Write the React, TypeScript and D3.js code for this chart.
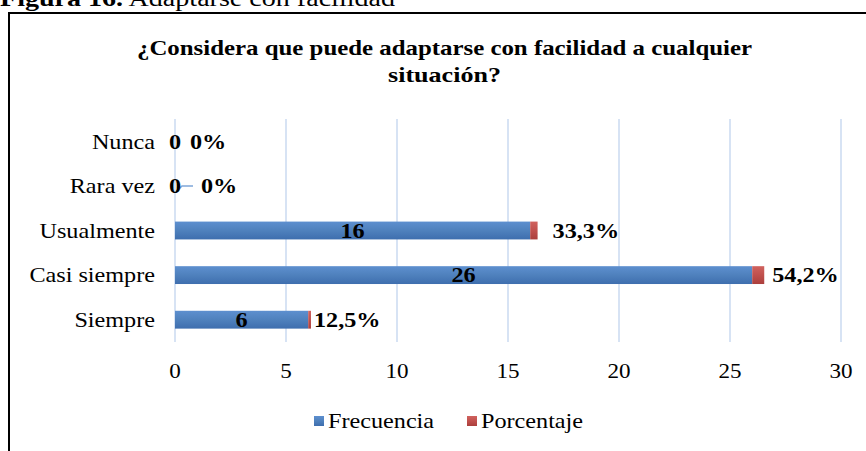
import React from "react";
import * as d3 from "d3";

const categories = ["Nunca", "Rara vez", "Usualmente", "Casi siempre", "Siempre"];
const frecuencia = [0, 0, 16, 26, 6];
const porcentaje = [0, 0, 0.333, 0.542, 0.125];
const porcentajeLabels = ["0%", "0%", "33,3%", "54,2%", "12,5%"];
const xTicks = [0, 5, 10, 15, 20, 25, 30];
const seriesNames = ["Frecuencia", "Porcentaje"];

// layout-only tweaks for the outside labels (gap after bar end, px)
const labelGap = [15, 26, 15, 8, 3];

const W = 866;
const H = 451;
const SX = 1.1; // horizontal text stretch of the reference
const FONT = "'Liberation Serif', 'Times New Roman', serif";

export default function App() {
  const x = d3.scaleLinear().domain([0, 30]).range([175, 841]);
  const y = d3
    .scaleBand<string>()
    .domain(categories)
    .range([119, 342])
    .paddingInner(0.6)
    .paddingOuter(0.3);
  const bw = y.bandwidth();

  const stretched = (
    tx: number,
    ty: number,
    content: React.ReactNode,
    anchor: "start" | "middle" | "end",
    size: number,
    weight: string | number = "normal",
    key?: string | number
  ) => (
    <text
      key={key}
      transform={`translate(${tx},${ty}) scale(${SX},1)`}
      textAnchor={anchor}
      dy="0.33em"
      fontSize={size}
      fontWeight={weight}
      fontFamily={FONT}
      fill="#000"
    >
      {content}
    </text>
  );

  return (
    <svg
      width={W}
      height={H}
      style={{ position: "absolute", left: 0, top: 0, background: "#fff" }}
    >
      <defs>
        <linearGradient id="gBlue" x1="0" y1="0" x2="0" y2="1">
          <stop offset="0" stopColor="#5d8fcf" />
          <stop offset="0.5" stopColor="#4f81bd" />
          <stop offset="1" stopColor="#3e6eae" />
        </linearGradient>
        <linearGradient id="gRed" x1="0" y1="0" x2="0" y2="1">
          <stop offset="0" stopColor="#d0625e" />
          <stop offset="0.5" stopColor="#c0504d" />
          <stop offset="1" stopColor="#ab3f3c" />
        </linearGradient>
      </defs>
      <rect x={0} y={0} width={W} height={H} fill="#fff" />

      {/* figure caption, cropped at top as in the reference */}
      <text
        x={0}
        y={6}
        fontSize={23}
        fontFamily={FONT}
        textLength={395}
        lengthAdjust="spacingAndGlyphs"
        fill="#000"
      >
        <tspan fontWeight="bold">Figura 16.</tspan>
        <tspan> Adaptarse con facilidad</tspan>
      </text>

      {/* chart border */}
      <path d={`M9,${H} V13 H${W}`} fill="none" stroke="#000" strokeWidth={2} />

      {/* title */}
      <text
        x={444.5}
        y={55}
        textAnchor="middle"
        fontSize={21}
        fontWeight="bold"
        fontFamily={FONT}
        textLength={615}
        lengthAdjust="spacingAndGlyphs"
      >
        ¿Considera que puede adaptarse con facilidad  a cualquier
      </text>
      <text
        x={444.5}
        y={82}
        textAnchor="middle"
        fontSize={21}
        fontWeight="bold"
        fontFamily={FONT}
        textLength={113}
        lengthAdjust="spacingAndGlyphs"
      >
        situación?
      </text>

      {/* gridlines */}
      {xTicks.map((t) => (
        <line
          key={"g" + t}
          x1={x(t)}
          x2={x(t)}
          y1={119}
          y2={342}
          stroke="#d7e3f4"
          strokeWidth={2}
        />
      ))}

      {/* x tick labels */}
      {xTicks.map((t) => stretched(x(t), 371, String(t), "middle", 21, "normal", "t" + t))}

      {/* category labels */}
      {categories.map((c) =>
        stretched(155, (y(c) as number) + bw / 2, c, "end", 22, "normal", "c" + c)
      )}

      {/* bars */}
      {categories.map((c, i) => {
        const y0 = y(c) as number;
        const x0 = x(0);
        const x1 = x(frecuencia[i]);
        const x2 = x(frecuencia[i] + porcentaje[i]);
        return (
          <g key={"b" + c}>
            {frecuencia[i] > 0 && (
              <rect x={x0} y={y0} width={x1 - x0} height={bw} fill="url(#gBlue)" />
            )}
            {porcentaje[i] > 0 && (
              <rect x={x1} y={y0} width={x2 - x1} height={bw} fill="url(#gRed)" />
            )}
          </g>
        );
      })}

      {/* leader line for Rara vez */}
      {(() => {
        const i = 1;
        const cy = (y(categories[i]) as number) + bw / 2;
        const x0 = x(0);
        return (
          <path
            d={`M${x0 + 1},${cy + 6} L${x0 + 7},${cy} L${x0 + 18},${cy}`}
            fill="none"
            stroke="#7fa6d9"
            strokeWidth={1.5}
          />
        );
      })()}

      {/* frecuencia labels */}
      {categories.map((c, i) =>
        stretched(
          x(frecuencia[i] / 2),
          (y(c) as number) + bw / 2,
          String(frecuencia[i]),
          "middle",
          22,
          "bold",
          "f" + c
        )
      )}

      {/* porcentaje labels */}
      {categories.map((c, i) =>
        stretched(
          x(frecuencia[i] + porcentaje[i]) + labelGap[i],
          (y(c) as number) + bw / 2,
          porcentajeLabels[i],
          "start",
          22,
          "bold",
          "p" + c
        )
      )}

      {/* legend */}
      <g>
        <rect x={314} y={416} width={10} height={10} fill="url(#gBlue)" />
        {stretched(328, 421, seriesNames[0], "start", 22, "normal", "l0")}
        <rect x={467} y={416} width={10} height={10} fill="url(#gRed)" />
        {stretched(481, 421, seriesNames[1], "start", 22, "normal", "l1")}
      </g>
    </svg>
  );
}
